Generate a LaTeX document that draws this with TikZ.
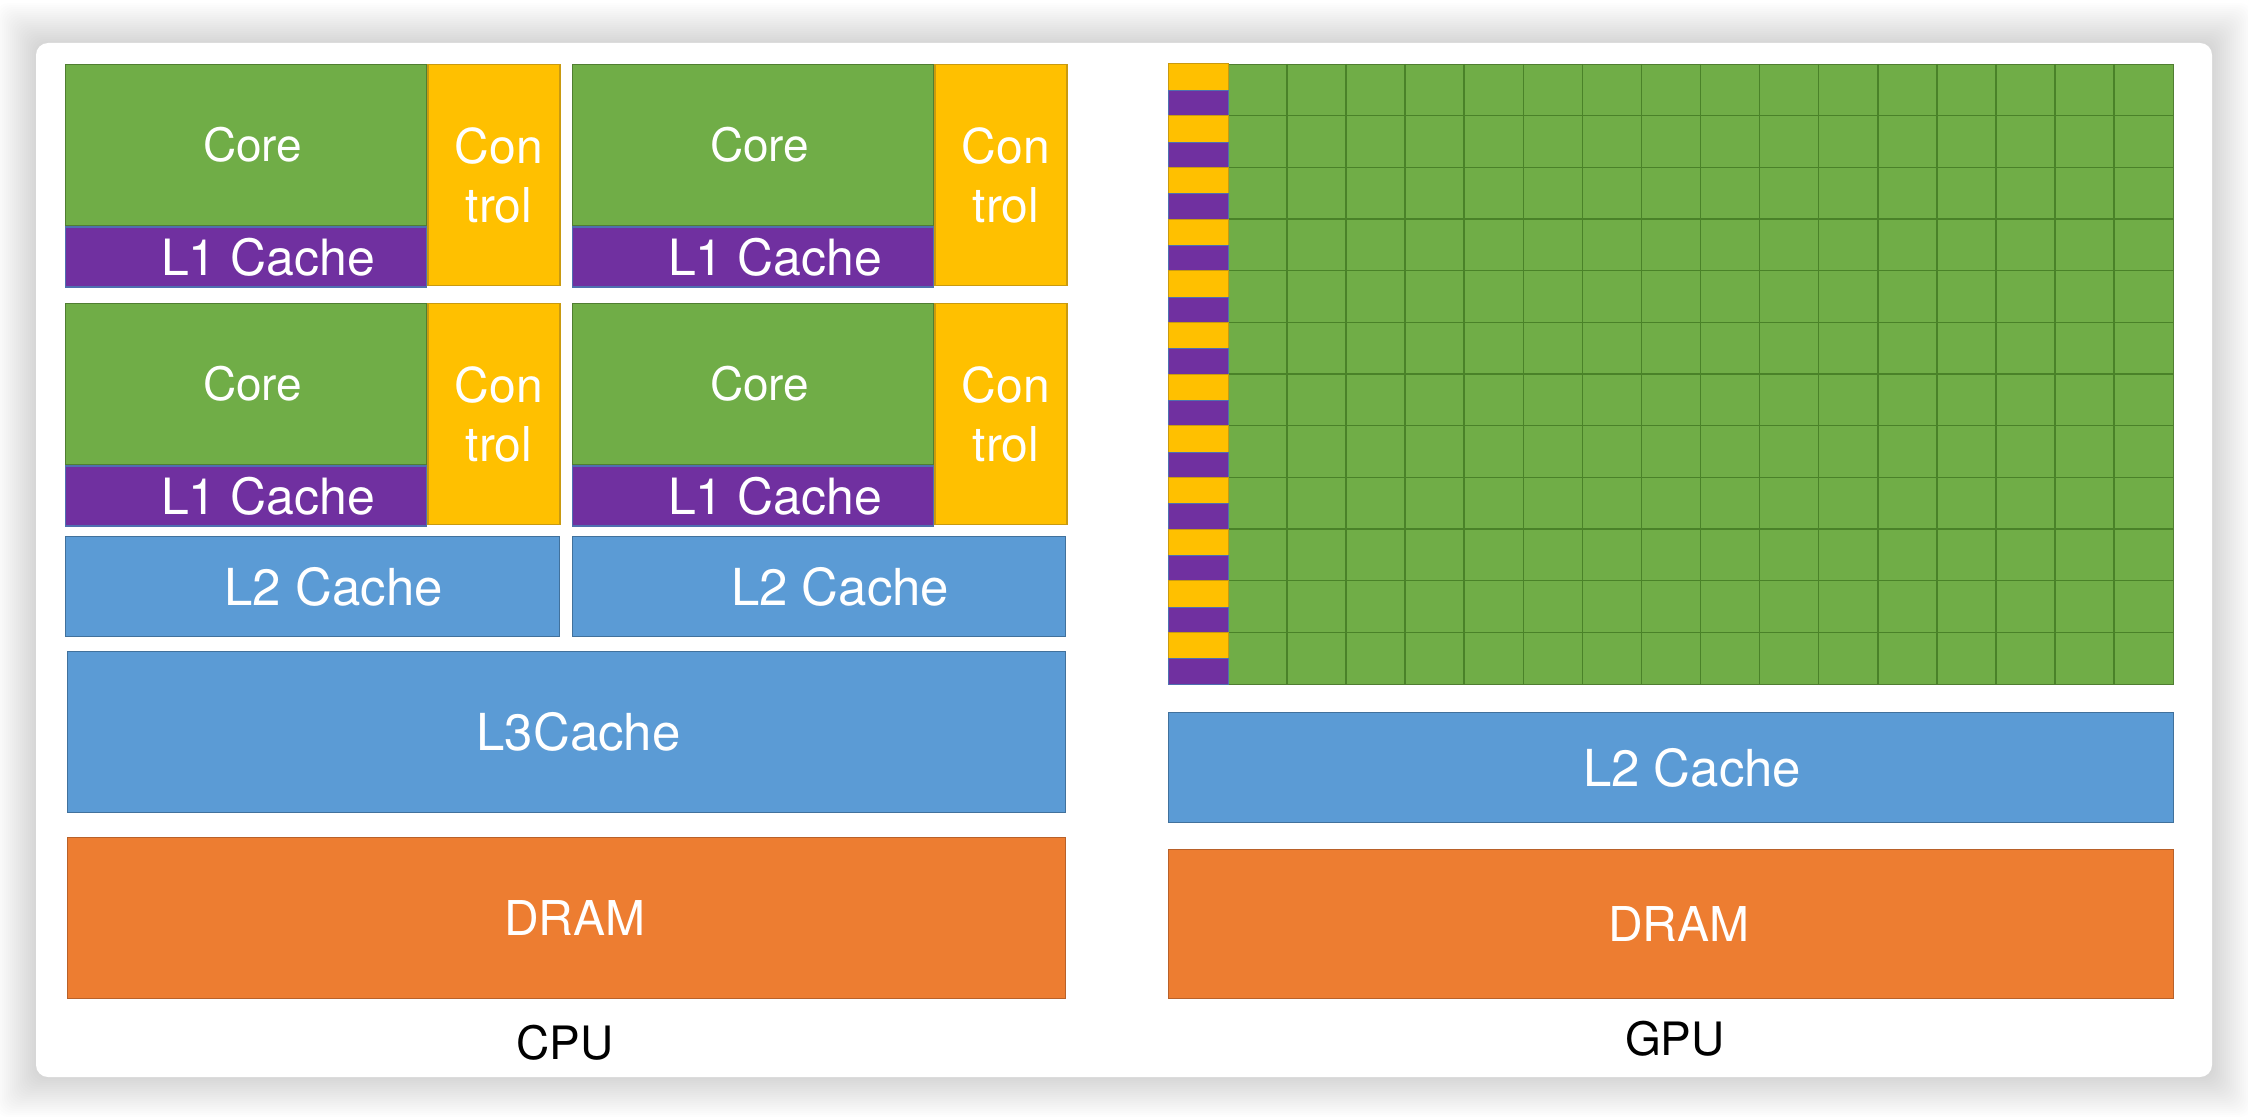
\documentclass[tikz,border=0pt]{standalone}
\usepackage{fontspec}
\setmainfont{TeX Gyre Heros}
\usetikzlibrary{positioning}

\definecolor{coregreen}{HTML}{70AD47}
\definecolor{coreedge}{HTML}{507E32}
\definecolor{ctrlyellow}{HTML}{FFC000}
\definecolor{ctrledge}{HTML}{C99A10}
\definecolor{cachepurple}{HTML}{7030A0}
\definecolor{purpleedge}{HTML}{4F6FB0}
\definecolor{cacheblue}{HTML}{5B9BD5}
\definecolor{blueedge}{HTML}{41719C}
\definecolor{dramorange}{HTML}{ED7D31}
\definecolor{orangeedge}{HTML}{B8612A}
\definecolor{gridline}{HTML}{4A8229}

\begin{document}
\begin{tikzpicture}[
x=1pt, y=-1pt,
blk/.style={
rectangle,
draw,
line width=1.3pt,
inner sep=0pt,
anchor=north west,
text=white,
align=center,
font=\fontsize{51}{56}\selectfont
},
corebox/.style={blk, fill=coregreen, draw=coreedge, minimum width=361pt, minimum height=161pt, font=\fontsize{46}{50}\selectfont},
lonebox/.style={blk, fill=cachepurple, draw=purpleedge, minimum width=361pt, minimum height=60pt, font=\fontsize{50}{54}\selectfont},
ctrlbox/.style={blk, fill=ctrlyellow, draw=ctrledge, minimum width=132pt, minimum height=221pt, font=\fontsize{48}{59}\selectfont},
cachebox/.style={blk, fill=cacheblue, draw=blueedge},
drambox/.style={blk, fill=dramorange, draw=orangeedge, font=\fontsize{48}{52}\selectfont},
gridln/.style={draw=gridline, line width=1.6pt},
caption/.style={font=\fontsize{46}{50}\selectfont, text=black}
]
\useasboundingbox (0,0) rectangle (2248,1116);
\fill[white] (0,0) rectangle (2248,1116);

% soft shadow round the card
\foreach \s in {1,...,20}
  \fill[black, opacity=0.009, rounded corners=12pt] (36-2*\s,43-2*\s) rectangle (2212+2*\s,1077+2*\s);
\fill[white, rounded corners=12pt] (36,43) rectangle (2212,1077);

% CPU cores
\foreach \cx/\cy/\id in {65/64/a, 572/64/b, 65/303/c, 572/303/d} {
  \node[corebox] (core\id) at (\cx,\cy) {\hspace*{13pt}Core};
  \node[lonebox] (lone\id) at (core\id.south west) {\hspace*{44pt}L1 Cache};
  \node[ctrlbox] (ctrl\id) at (core\id.north east) {\hspace*{10pt}Con\\\hspace*{10pt}trol};
}

\node[cachebox, minimum width=494pt, minimum height=100pt] (ltwoa) at (65,536) {\hspace*{42pt}L2 Cache};
\node[cachebox, minimum width=493pt, minimum height=100pt] (ltwob) at (572,536) {\hspace*{42pt}L2 Cache};
\node[cachebox, minimum width=998pt, minimum height=161pt] (lthree) at (67,651) {\hspace*{24pt}L3Cache};
\node[drambox, minimum width=998pt, minimum height=161pt] (cpudram) at (67,837) {\hspace*{16pt}DRAM};
\node[caption] (cpu) at (565,1043) {CPU};

% GPU cores
\node[blk, fill=coregreen, draw=coreedge, minimum width=945pt, minimum height=620pt] (gpucores) at (1228,64) {};
\foreach \i in {1,...,15}
  \draw[gridln] ({1228+\i*59.0625},64) -- ++(0,620);
\foreach \j in {1,...,11}
  \draw[gridln] (1228,{64+\j*51.667}) -- ++(945,0);
\foreach \r in {0,...,11} {
  \filldraw[fill=ctrlyellow, draw=ctrledge, line width=1pt] (1168,{64+\r*51.667}) rectangle ++(60,26.5);
  \filldraw[fill=cachepurple, draw=purpleedge, line width=1pt] (1168,{90.5+\r*51.667}) rectangle ++(60,25.167);
}

\node[cachebox, minimum width=1005pt, minimum height=110pt] (gpultwo) at (1168,712) {\hspace*{42pt}L2 Cache};
\node[drambox, minimum width=1005pt, minimum height=149pt] (gpudram) at (1168,849) {\hspace*{15pt}DRAM};
\node[caption] (gpu) at (1675,1039) {GPU};
\end{tikzpicture}
\end{document}
